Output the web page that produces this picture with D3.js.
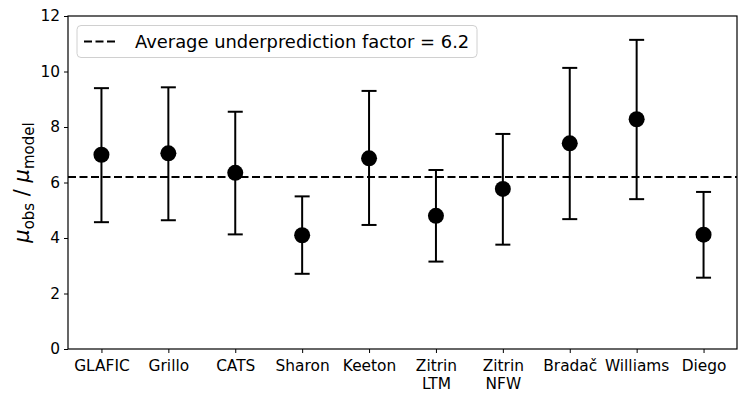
<!DOCTYPE html>
<html>
<head>
<meta charset="utf-8">
<script src="https://cdn.jsdelivr.net/npm/d3@7"></script>
<style>
  body { margin: 0; background: #fff; }
  text { font-family: "DejaVu Sans", sans-serif; }
</style>
</head>
<body>
<script>
// models along the x axis (two-line labels split on "\n")
var models = ["GLAFIC", "Grillo", "CATS", "Sharon", "Keeton",
    "Zitrin\nLTM", "Zitrin\nNFW", "Bradač", "Williams", "Diego"];
// ratio of observed to model magnification, with error bar ends
var ratio = [7.0, 7.05, 6.35, 4.1, 6.87, 4.8, 5.77, 7.41, 8.28, 4.12];
var upper = [9.4, 9.43, 8.55, 5.5, 9.3, 6.45, 7.75, 10.13, 11.14, 5.66];
var lower = [4.57, 4.64, 4.13, 2.71, 4.47, 3.15, 3.76, 4.68, 5.4, 2.57];
var average = 6.2;
var yTicks = [0, 2, 4, 6, 8, 10, 12];

var width = 748, height = 405;
var plotLeft = 68, plotRight = 737, plotTop = 16, plotBottom = 349;

var svg = d3.select("body").append("svg")
    .attr("width", width)
    .attr("height", height);

var xScale = d3.scaleLinear()
    .domain([-0.5, models.length - 0.5])
    .range([plotLeft, plotRight]);

var yScale = d3.scaleLinear()
    .domain([0, 12])
    .range([plotBottom, plotTop]);

// error bars
var bars = svg.selectAll("g.err")
    .data(ratio)
    .enter()
    .append("g")
    .attr("class", "err");

bars.append("line")
    .attr("x1", function (d, i) { return xScale(i); })
    .attr("x2", function (d, i) { return xScale(i); })
    .attr("y1", function (d, i) { return yScale(lower[i]); })
    .attr("y2", function (d, i) { return yScale(upper[i]); })
    .attr("stroke", "black")
    .attr("stroke-width", 2);

[upper, lower].forEach(function (arr) {
    bars.append("line")
        .attr("x1", function (d, i) { return xScale(i) - 7.5; })
        .attr("x2", function (d, i) { return xScale(i) + 7.5; })
        .attr("y1", function (d, i) { return yScale(arr[i]); })
        .attr("y2", function (d, i) { return yScale(arr[i]); })
        .attr("stroke", "black")
        .attr("stroke-width", 2);
});

// average line
svg.append("line")
    .attr("x1", plotLeft)
    .attr("x2", plotRight)
    .attr("y1", yScale(average))
    .attr("y2", yScale(average))
    .attr("stroke", "black")
    .attr("stroke-width", 2)
    .attr("stroke-dasharray", "8,3.5");

// points
svg.selectAll("circle")
    .data(ratio)
    .enter()
    .append("circle")
    .attr("cx", function (d, i) { return xScale(i); })
    .attr("cy", function (d) { return yScale(d); })
    .attr("r", 8)
    .attr("fill", "black");

// axes
var yAxis = svg.append("g")
    .attr("transform", "translate(" + plotLeft + ",0)")
    .call(d3.axisLeft(yScale).tickValues(yTicks).tickSize(4).tickPadding(4));

var xAxis = svg.append("g")
    .attr("transform", "translate(0," + plotBottom + ")")
    .call(d3.axisBottom(xScale).tickValues(d3.range(models.length))
        .tickSize(4).tickPadding(4).tickFormat(function () { return ""; }));

[xAxis, yAxis].forEach(function (ax) {
    ax.select(".domain").remove();
    ax.selectAll(".tick line").attr("stroke-width", 1);
    ax.selectAll("text").attr("font-size", "15.4px").attr("fill", "black")
        .attr("font-family", "DejaVu Sans, sans-serif");
});

// multi-line x labels
xAxis.selectAll(".tick text").each(function (d) {
    var t = d3.select(this);
    models[d].split("\n").forEach(function (s, k) {
        t.append("tspan")
            .attr("x", 0)
            .attr("dy", k === 0 ? "0.76em" : "1.2em")
            .text(s);
    });
}).attr("dy", null).attr("y", 10);

// frame
svg.append("rect")
    .attr("x", plotLeft)
    .attr("y", plotTop)
    .attr("width", plotRight - plotLeft)
    .attr("height", plotBottom - plotTop)
    .attr("fill", "none")
    .attr("stroke", "black")
    .attr("stroke-width", 1.2);

// y label
var yl = svg.append("text")
    .attr("transform", "translate(29," + ((plotTop + plotBottom) / 2) + ") rotate(-90)")
    .attr("text-anchor", "middle")
    .attr("font-size", "21px");
yl.append("tspan").attr("font-style", "italic").text("μ");
yl.append("tspan").attr("font-size", "15px").attr("dy", 5).text("obs");
yl.append("tspan").attr("dy", -5).text(" / ");
yl.append("tspan").attr("font-style", "italic").text("μ");
yl.append("tspan").attr("font-size", "15px").attr("dy", 5).text("model");

// legend
var lg = svg.append("g");
lg.append("rect")
    .attr("x", 77)
    .attr("y", 25.5)
    .attr("width", 400)
    .attr("height", 32)
    .attr("rx", 4)
    .attr("fill", "white")
    .attr("fill-opacity", 0.8)
    .attr("stroke", "#d0d0d0");
lg.append("line")
    .attr("x1", 84)
    .attr("x2", 118)
    .attr("y1", 41.5)
    .attr("y2", 41.5)
    .attr("stroke", "black")
    .attr("stroke-width", 2)
    .attr("stroke-dasharray", "8,3.5");
lg.append("text")
    .attr("x", 135)
    .attr("y", 47.5)
    .attr("font-size", "17.9px")
    .text("Average underprediction factor = " + average);
</script>
</body>
</html>
